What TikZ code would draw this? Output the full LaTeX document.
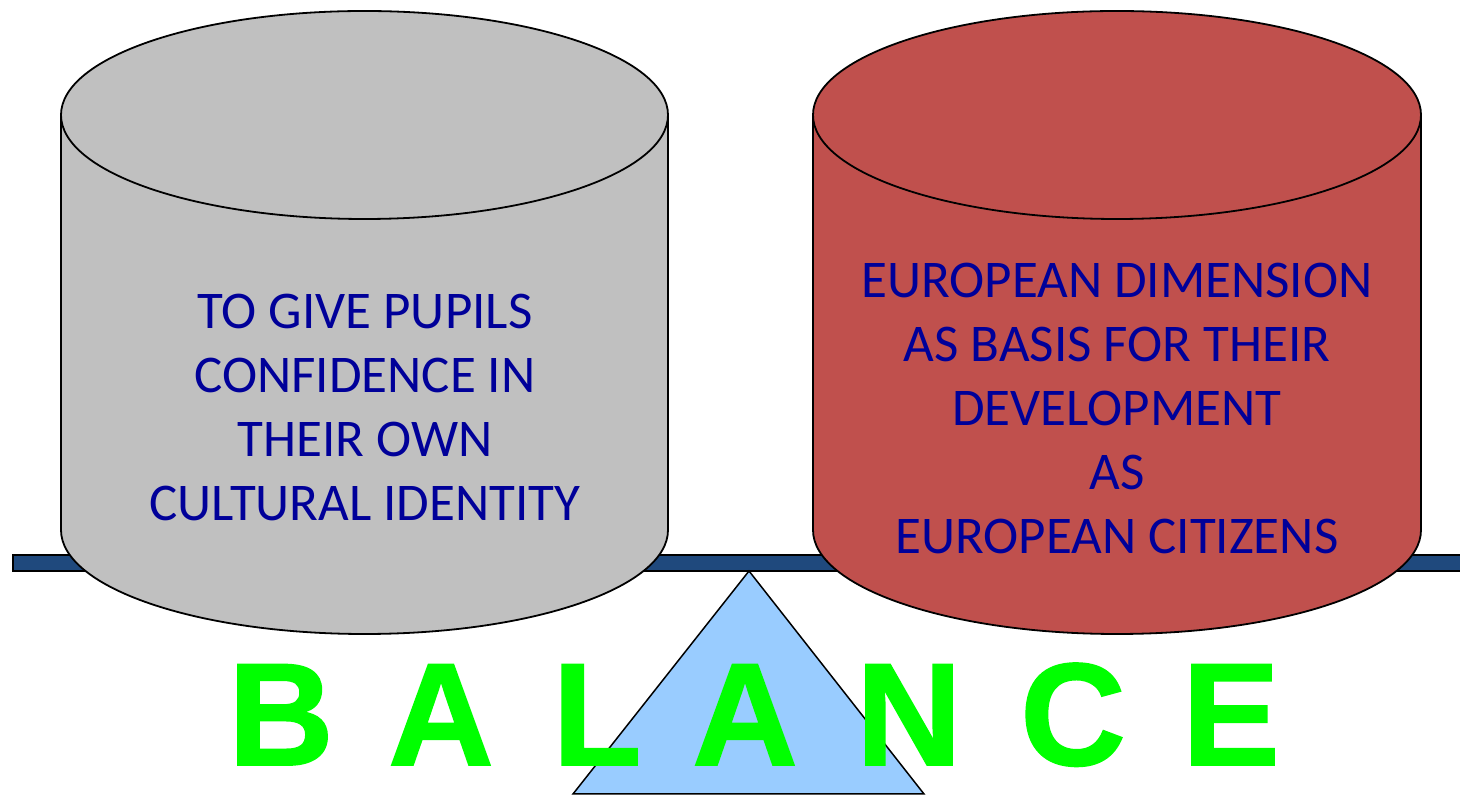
\documentclass[tikz,border=0pt]{standalone}
\usepackage{fontspec}
\newfontfamily\bodyfont{Carlito}
\newfontfamily\balfont[BoldFeatures={FakeBold=1.2}]{Liberation Sans}
\definecolor{cylgray}{HTML}{C0C0C0}
\definecolor{cylred}{HTML}{C0504D}
\definecolor{beamblue}{HTML}{1F497D}
\definecolor{triblue}{HTML}{99CCFF}
\definecolor{txtblue}{HTML}{000099}
\definecolor{balgreen}{HTML}{00FF00}
\tikzset{
  outline/.style={draw=black, line width=1.8pt},
  cyltext/.style={align=center, text=txtblue, font=\bodyfont\fontsize{53}{64}\selectfont},
  balletter/.style={anchor=base, text=balgreen, inner sep=0pt, font=\balfont\bfseries\fontsize{146}{150}\selectfont}
}
\begin{document}
\begin{tikzpicture}[x=1pt,y=1pt]
\useasboundingbox (0,0) rectangle (1460,795);
% beam
\filldraw[fill=beamblue, outline] (13,224) rectangle (1470,240);
% fulcrum
\filldraw[fill=triblue, draw=black, line width=1.5pt] (749,224) -- (924,1) -- (573,1) -- cycle;
% left cylinder
\filldraw[fill=cylgray, outline] (61,680) -- (61,265) arc[start angle=180, end angle=360, x radius=303.5, y radius=104] -- (668,680);
\filldraw[fill=cylgray, outline] (364.5,680) ellipse [x radius=303.5, y radius=104];
% right cylinder
\filldraw[fill=cylred, outline] (813,680) -- (813,265) arc[start angle=180, end angle=360, x radius=304, y radius=104] -- (1421,680);
\filldraw[fill=cylred, outline] (1117,680) ellipse [x radius=304, y radius=104];
% texts
\node[cyltext] (lt) at (365,387) {TO GIVE PUPILS\\CONFIDENCE IN\\THEIR OWN\\CULTURAL IDENTITY};
\node[cyltext] (rt) at (1117,386) {EUROPEAN DIMENSION\\AS BASIS FOR THEIR\\DEVELOPMENT\\AS\\EUROPEAN CITIZENS};
% BALANCE
\node[balletter] (b1) at (281,30) {B};
\node[balletter] (b2) at (441,30) {A};
\node[balletter] (b3) at (597,30) {L};
\node[balletter] (b4) at (745,30) {A};
\node[balletter] (b5) at (909,30) {N};
\node[balletter] (b6) at (1073,30) {C};
\node[balletter] (b7) at (1231,30) {E};
\end{tikzpicture}
\end{document}
